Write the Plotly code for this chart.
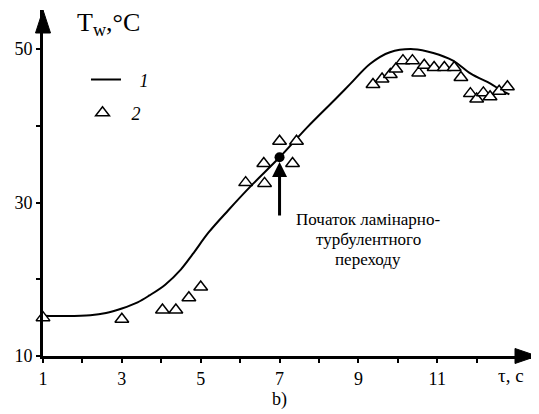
import plotly.graph_objects as go

# Curve 1 (calculation)
curve_t = [1.0, 1.6, 2.2, 2.6, 3.0, 3.4, 3.7, 4.1, 4.5, 4.8, 5.2, 5.7, 6.3, 7.0, 7.7, 8.4,
           8.8, 9.3, 9.8, 10.4, 10.9, 11.4, 11.85, 12.35, 12.6, 12.83]
curve_T = [15.25, 15.2, 15.3, 15.6, 16.2, 17.0, 17.9, 19.3, 21.3, 23.3, 26.1, 29.0, 32.3, 35.9, 39.8, 43.4,
           45.5, 48.1, 49.6, 50.0, 49.5, 48.5, 46.8, 45.5, 44.7, 44.1]

# Series 2 (experiment)
tri_t = [1.0, 3.0, 4.03, 4.37, 4.7, 5.0, 6.14, 6.6, 6.62, 7.0, 7.33, 7.43,
         9.37, 9.6, 9.81, 9.95, 10.13, 10.37, 10.53, 10.67, 10.92, 11.18, 11.43, 11.6,
         11.84, 12.0, 12.17, 12.34, 12.57, 12.78]
tri_T = [15.0, 14.8, 16.0, 16.0, 17.6, 19.0, 32.6, 35.1, 32.5, 38.0, 35.1, 38.0,
         45.4, 46.1, 46.7, 47.4, 48.5, 48.5, 46.9, 47.9, 47.6, 47.6, 47.6, 46.3,
         44.2, 43.5, 44.3, 43.8, 44.5, 45.1]

# Transition point
trans_t = [7.0]
trans_T = [35.9]

x_ticks = [1, 2, 3, 4, 5, 6, 7, 8, 9, 10, 11, 12]
x_labels = ["1", "", "3", "", "5", "", "7", "", "9", "", "11", ""]
y_ticks = [10, 20, 30, 40, 50]
y_labels = ["10", "", "30", "", "50"]

note_lines = ["Початок ламінарно-", "турбулентного", "переходу"]

FONT = "Liberation Serif"
NB = "\u00a0"

fig = go.Figure()
fig.add_trace(go.Scatter(
    x=curve_t, y=curve_T, mode="lines", name=NB * 3 + "1",
    line=dict(color="black", width=2, shape="spline", smoothing=1.0),
    legend="legend", cliponaxis=False,
))
fig.add_trace(go.Scatter(
    x=tri_t, y=tri_T, mode="markers", name=NB * 2 + "2",
    marker=dict(symbol="triangle-up", size=12, color="white",
                line=dict(color="black", width=1.5)),
    legend="legend2", cliponaxis=False,
))
fig.add_trace(go.Scatter(
    x=trans_t, y=trans_T, mode="markers", showlegend=False,
    marker=dict(symbol="circle", size=10, color="black"),
))

fig.update_layout(
    width=531, height=406,
    margin=dict(l=35, r=2, t=2, b=58),
    paper_bgcolor="white", plot_bgcolor="white",
    font=dict(family=FONT, color="black", size=18),
    xaxis=dict(range=[1, 13.53], showgrid=False, zeroline=False,
               showline=True, linecolor="black", linewidth=3,
               tickmode="array", tickvals=x_ticks, ticktext=x_labels,
               ticks="outside", ticklen=4, tickwidth=1.5, tickcolor="black",
               tickfont=dict(family=FONT, size=18)),
    yaxis=dict(range=[10, 55.1], showgrid=False, zeroline=False,
               showline=True, linecolor="black", linewidth=3,
               tickmode="array", tickvals=y_ticks, ticktext=y_labels,
               ticks="outside", ticklen=4, tickwidth=1.5, tickcolor="black",
               tickfont=dict(family=FONT, size=18)),
    legend=dict(x=0.087, y=0.798, xanchor="left", yanchor="middle",
                bgcolor="rgba(0,0,0,0)", itemwidth=30,
                font=dict(family=FONT, size=18, style="italic")),
    legend2=dict(x=0.08, y=0.702, xanchor="left", yanchor="middle",
                 bgcolor="rgba(0,0,0,0)", itemwidth=30,
                 font=dict(family=FONT, size=18, style="italic")),
    showlegend=True,
)

# axis arrowheads
fig.add_shape(type="path", xref="paper", yref="paper", xsizemode="pixel", ysizemode="pixel",
              xanchor=0, yanchor=1, path="M-7.5,-23 L7.5,-23 L0,0 Z",
              fillcolor="black", line=dict(color="black", width=1))
fig.add_shape(type="path", xref="paper", yref="paper", xsizemode="pixel", ysizemode="pixel",
              xanchor=1, yanchor=0, path="M-22,7.5 L-22,-7.5 L0,0 Z",
              fillcolor="black", line=dict(color="black", width=1))

# axis titles
fig.add_annotation(x=0.065, y=0.96, xref="paper", yref="paper", xanchor="left", yanchor="middle",
                   text="T<sub>w</sub>,°C", showarrow=False, font=dict(family=FONT, size=26))
fig.add_annotation(x=0.947, y=-0.055, xref="paper", yref="paper", xanchor="center", yanchor="middle",
                   text="τ, c", showarrow=False, font=dict(family=FONT, size=19))
fig.add_annotation(x=0.478, y=-0.125, xref="paper", yref="paper", xanchor="center", yanchor="middle",
                   text="b)", showarrow=False, font=dict(family=FONT, size=18))

# transition arrow and label
fig.add_annotation(x=trans_t[0], y=35.3, xref="x", yref="y", ax=0, ay=55, text="",
                   showarrow=True, arrowhead=2, arrowsize=1, arrowwidth=3, arrowcolor="black")
for i, line in enumerate(note_lines):
    fig.add_annotation(x=9.25, y=25.25, xref="x", yref="y", xanchor="center", yanchor="middle",
                       yshift=20 - 20 * i, text=line, showarrow=False,
                       font=dict(family=FONT, size=17))

fig.write_html("out.html", config={"displayModeBar": False})
